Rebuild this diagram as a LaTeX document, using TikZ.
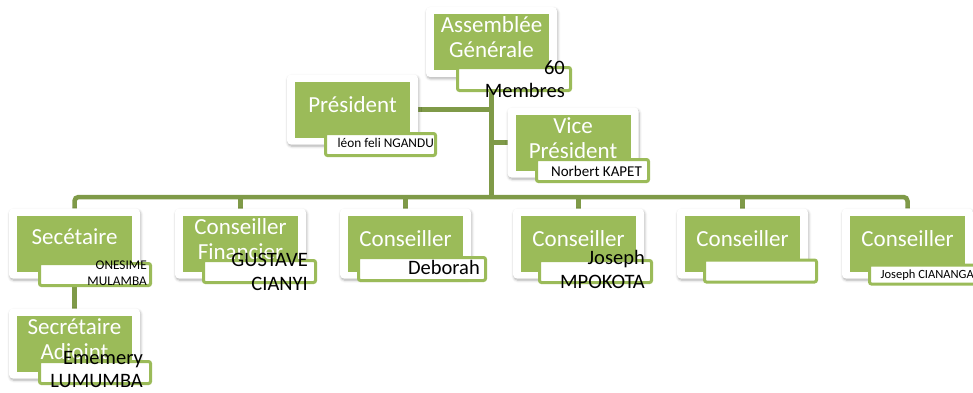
\documentclass[tikz,border=0pt]{standalone}
\usepackage{fontspec}
\setmainfont{Carlito}
\usetikzlibrary{shadows.blur,calc,backgrounds}
\definecolor{sgreen}{HTML}{9BBB59}
\definecolor{sline}{HTML}{7F9A48}
\begin{document}
\begin{tikzpicture}[x=1pt,y=-1pt,
 outerbox/.style={fill=white, rounded corners=4pt, minimum width=131pt, minimum height=70pt, inner sep=0pt, outer sep=0pt,
   blur shadow={shadow xshift=0.8pt, shadow yshift=-1.8pt, shadow blur radius=2.5pt, shadow opacity=32}},
 greenbox/.style={fill=sgreen, minimum width=115pt, minimum height=56pt, inner sep=0pt, outer sep=0pt},
 labelbox/.style={fill=white, draw=sgreen, line width=3pt, rounded corners=2pt, minimum width=112pt, minimum height=22pt, inner sep=0pt},
 wtext/.style={text=white, font=\fontsize{23}{25}\selectfont, align=center, inner sep=0pt, anchor=base},
 btext/.style={text=black, font=\fontsize{20.5}{23.5}\selectfont, align=right, inner sep=0pt, anchor=base east},
 stext/.style={btext, font=\fontsize{13.3}{15.5}\selectfont},
 conn/.style={draw=sline, line width=4.5pt}]
\useasboundingbox (0,0) rectangle (973,392);
\clip (0,0) rectangle (973,392);

% Assemblée Générale
\node[outerbox] (ag) at (491.5,42) {};
\node[greenbox] (agG) at (ag.center) {};
\node[wtext] (agT) at ($(agG.north)+(0,43.5)$) {Assemblée\\Générale};
\node[labelbox, minimum width=113pt, minimum height=23pt] (agL) at (514,79) {};
\node[btext] (agN) at ($(agL.east)+(-7,18.5)$) {60\\Membres};

% Président
\node[outerbox] (pres) at (352.5,109.5) {};
\node[greenbox] (presG) at (pres.center) {};
\node[wtext] (presT) at ($(presG.north)+(0,30.5)$) {Président};
\node[labelbox, minimum width=110pt] (presL) at (380.5,144.5) {};
\node[stext] (presN) at ($(presL.east)+(-3,2.5)$) {léon feli NGANDU};

% Vice Président
\node[outerbox] (vice) at (573,142.5) {};
\node[greenbox] (viceG) at (vice.center) {};
\node[wtext] (viceT) at ($(viceG.north)+(0,43.5)$) {Vice\\Président};
\node[labelbox] (viceL) at (592.5,170.5) {};
\node[btext, font=\fontsize{15}{18}\selectfont] (viceN) at ($(viceL.east)+(-8,5.5)$) {Norbert KAPET};

% Secétaire
\node[outerbox] (c1) at (74.5,243.5) {};
\node[greenbox] (c1G) at (c1.center) {};
\node[wtext] (c1T) at ($(c1G.north)+(0,29)$) {Secétaire};
\node[labelbox, minimum width=111pt] (c1L) at (95,274.5) {};
\node[stext] (c1N) at ($(c1L.east)+(-5,10.5)$) {ONESIME\\MULAMBA};

% Conseiller Financier
\node[outerbox] (c2) at (240.5,243.5) {};
\node[greenbox] (c2G) at (c2.center) {};
\node[wtext] (c2T) at ($(c2G.north)+(0,43.5)$) {Conseiller\\Financier};
\node[labelbox] (c2L) at (259.5,271.5) {};
\node[btext] (c2N) at ($(c2L.east)+(-9,18.5)$) {GUSTAVE\\CIANYI};

% Conseiller (Deborah)
\node[outerbox] (c3) at (405.5,243.5) {};
\node[greenbox] (c3G) at (c3.center) {};
\node[wtext] (c3T) at ($(c3G.north)+(0,30.5)$) {Conseiller};
\node[labelbox, minimum width=127pt, minimum height=23pt] (c3L) at (422,269) {};
\node[btext] (c3N) at ($(c3L.east)+(-7,5)$) {Deborah};

% Conseiller (Joseph MPOKOTA)
\node[outerbox] (c4) at (578.5,243.5) {};
\node[greenbox] (c4G) at (c4.center) {};
\node[wtext] (c4T) at ($(c4G.north)+(0,30.5)$) {Conseiller};
\node[labelbox] (c4L) at (595.5,271.5) {};
\node[btext] (c4N) at ($(c4L.east)+(-8,16.5)$) {Joseph\\MPOKOTA};

% Conseiller (empty)
\node[outerbox] (c5) at (742.5,243.5) {};
\node[greenbox] (c5G) at (c5.center) {};
\node[wtext] (c5T) at ($(c5G.north)+(0,30.5)$) {Conseiller};
\node[labelbox] (c5L) at (760.5,271) {};

% Conseiller (Joseph CIANANGA)
\node[outerbox] (c6) at (907.5,243.5) {};
\node[greenbox] (c6G) at (c6.center) {};
\node[wtext] (c6T) at ($(c6G.north)+(0,30.5)$) {Conseiller};
\node[labelbox, minimum height=19pt] (c6L) at (925.5,274.5) {};
\node[stext, font=\fontsize{12.5}{15}\selectfont] (c6N) at ($(c6L.east)+(-9,4)$) {Joseph CIANANGA};

% Secrétaire Adjoint
\node[outerbox] (sa) at (74.5,343.5) {};
\node[greenbox] (saG) at (sa.center) {};
\node[wtext] (saT) at ($(saG.north)+(0,44)$) {Secrétaire\\Adjoint};
\node[labelbox, minimum width=111pt] (saL) at (95,372.5) {};
\node[btext] (saN) at ($(saL.east)+(-9,15)$) {Ememery\\LUMUMBA};

\begin{scope}[on background layer]
\coordinate (hub) at (ag.south |- 0,197);
\draw[conn] (ag.south) -- (hub);
\draw[conn, rounded corners=4pt] (c1.north) |- (hub) -| (c6.north);
\foreach \n in {c2,c3,c4,c5} \draw[conn] (\n.north) -- (\n.north |- hub);
\draw[conn] (pres.east) -- (pres.east -| ag.south);
\draw[conn] (vice.west) -- (vice.west -| ag.south);
\draw[conn] (c1.south) -- (sa.north);
\end{scope}
\end{tikzpicture}
\end{document}
